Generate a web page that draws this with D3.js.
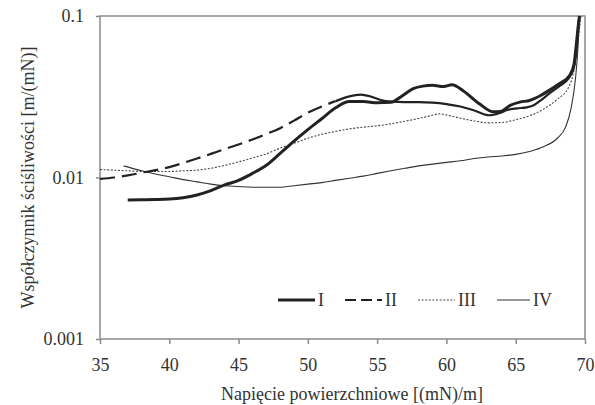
<!DOCTYPE html>
<html>
<head>
<meta charset="utf-8">
<script src="https://cdn.jsdelivr.net/npm/d3@7"></script>
<style>
  body { margin: 0; background: #fff; }
  text { font-family: "Liberation Serif", "Times New Roman", serif; fill: #333; }
</style>
</head>
<body>
<div id="chart"></div>
<script>
// series (x = surface tension, y = compressibility)
const xI = [37, 38, 39, 40, 41, 42, 43, 44, 45, 46, 47, 48, 49, 50, 51, 52, 53, 54, 55, 56, 56.8, 57.6, 58.3, 59, 59.8, 60.4, 61.2, 62.4, 63.4, 63.9, 64.6, 65.3, 66, 66.8, 67.5, 68.2, 68.9, 69.2, 69.4, 69.5, 69.6];
const yI = [0.00726, 0.00728, 0.0073, 0.00735, 0.0075, 0.0078, 0.0083, 0.009, 0.0096, 0.0106, 0.0119, 0.0141, 0.0168, 0.0198, 0.0231, 0.027, 0.0295, 0.0295, 0.029, 0.0292, 0.032, 0.0355, 0.0368, 0.0372, 0.0366, 0.0375, 0.0345, 0.0285, 0.0255, 0.0256, 0.028, 0.0293, 0.03, 0.0322, 0.035, 0.0383, 0.043, 0.05, 0.07, 0.085, 0.1];

const xII = [35, 36, 37, 38, 39, 40, 41, 42, 43, 44, 45, 46, 47, 48, 49, 50, 51, 52, 53, 53.8, 54.5, 55.2, 56, 57, 58, 59, 60, 61, 62, 63.1, 63.8, 64.4, 65.1, 65.8, 66.3, 66.8, 67.5, 68.2, 68.8, 69.2, 69.4, 69.5, 69.6];
const yII = [0.0098, 0.01, 0.0103, 0.0107, 0.0111, 0.0116, 0.0123, 0.0131, 0.014, 0.015, 0.016, 0.0172, 0.0186, 0.0202, 0.0225, 0.0252, 0.0275, 0.0297, 0.0318, 0.0326, 0.0318, 0.0303, 0.0295, 0.0293, 0.0293, 0.0291, 0.0285, 0.0275, 0.026, 0.0243, 0.025, 0.0262, 0.0268, 0.0272, 0.028, 0.03, 0.0335, 0.037, 0.041, 0.048, 0.065, 0.085, 0.1];

const xIII = [35, 36, 37, 38, 39, 40, 41, 42, 43, 44, 45, 46, 47, 48, 49, 50, 51, 52, 53, 54, 55, 56, 57, 58, 59, 59.5, 60, 61, 62, 63, 64, 65, 66, 67, 68, 68.8, 69.2, 69.5, 69.7];
const yIII = [0.0112, 0.0111, 0.011, 0.0109, 0.0109, 0.0109, 0.011, 0.0111, 0.0114, 0.0119, 0.0125, 0.0132, 0.014, 0.0152, 0.0163, 0.0175, 0.0185, 0.0193, 0.02, 0.0205, 0.0209, 0.0215, 0.0223, 0.0232, 0.0243, 0.0248, 0.0244, 0.0233, 0.0224, 0.0218, 0.0219, 0.0228, 0.0241, 0.0265, 0.0305, 0.036, 0.046, 0.07, 0.1];

const xIV = [36.7, 38, 39, 40, 41, 42, 43, 44, 45, 46, 47, 48, 49, 50, 51, 52, 53, 54, 55, 56, 57, 58, 59, 60, 61, 62, 63, 64, 65, 66, 67, 68, 68.6, 69, 69.3, 69.5, 69.6];
const yIV = [0.0118, 0.011, 0.0105, 0.0101, 0.0097, 0.0094, 0.0091, 0.0089, 0.0088, 0.0087, 0.0087, 0.0087, 0.0089, 0.0091, 0.0093, 0.0096, 0.0099, 0.0102, 0.0106, 0.011, 0.0114, 0.0118, 0.0121, 0.0124, 0.0127, 0.0131, 0.0134, 0.0136, 0.0139, 0.0145, 0.0155, 0.0175, 0.0205, 0.027, 0.04, 0.065, 0.1];

const seriesNames = ['I', 'II', 'III', 'IV'];
const xTicks = [35, 40, 45, 50, 55, 60, 65, 70];
const yTicks = [0.001, 0.01, 0.1];
const yTickLabels = ['0.001', '0.01', '0.1'];
const xTitle = 'Napięcie powierzchniowe [(mN)/m]';
const yTitle = 'Współczynnik ściśliwości [m/(mN)]';

const width = 595, height = 405;
const margin = {top: 16, right: 10, bottom: 66, left: 100};

const svg = d3.select('#chart').append('svg')
    .attr('width', width)
    .attr('height', height);

const x = d3.scaleLinear().domain([35, 70]).range([margin.left, width - margin.right]);
const y = d3.scaleLog().domain([0.001, 0.1]).range([height - margin.bottom, margin.top]);

const axisColor = '#8a8a8a';

// clip regions: whole plot, plus the split used for the dashed series
// (excel restarts the dash on every segment, so the dense right part looks solid)
const defs = svg.append('defs');
defs.append('clipPath').attr('id', 'plot')
    .append('rect')
    .attr('x', x(35)).attr('y', y(0.1) - 2)
    .attr('width', x(70) - x(35)).attr('height', y(0.001) - y(0.1) + 2);
const splitAt = 52;
defs.append('clipPath').attr('id', 'left')
    .append('rect')
    .attr('x', x(35)).attr('y', 0)
    .attr('width', x(splitAt) - x(35)).attr('height', height);
defs.append('clipPath').attr('id', 'right')
    .append('rect')
    .attr('x', x(splitAt)).attr('y', y(0.1) - 2)
    .attr('width', x(70) - x(splitAt)).attr('height', height);

// frame
svg.append('rect')
    .attr('x', x(35)).attr('y', y(0.1))
    .attr('width', x(70) - x(35)).attr('height', y(0.001) - y(0.1))
    .attr('fill', 'none')
    .attr('stroke', axisColor)
    .attr('stroke-width', 1.5);

// axes
const xAxis = svg.append('g')
    .attr('transform', `translate(0,${y(0.001)})`)
    .call(d3.axisBottom(x).tickValues(xTicks).tickSize(5).tickPadding(14).tickFormat(d3.format('d')));
const yAxis = svg.append('g')
    .attr('transform', `translate(${x(35)},0)`)
    .call(d3.axisLeft(y).tickValues(yTicks).tickSize(4).tickPadding(12)
        .tickFormat((d, i) => yTickLabels[i]));

[xAxis, yAxis].forEach(g => {
    g.select('.domain').remove();
    g.selectAll('.tick line').attr('stroke', axisColor).attr('stroke-width', 1.5);
    g.selectAll('.tick text')
        .attr('font-size', 18)
        .attr('font-family', '"Liberation Serif", serif')
        .attr('fill', '#333');
});

// titles
svg.append('text')
    .attr('x', 352).attr('y', 400)
    .attr('text-anchor', 'middle')
    .attr('font-size', 18)
    .text(xTitle);
svg.append('text')
    .attr('transform', `translate(34,${(y(0.1) + y(0.001)) / 2}) rotate(-90)`)
    .attr('text-anchor', 'middle')
    .attr('font-size', 18)
    .text(yTitle);

// series
const line = d3.line()
    .x(d => x(d[0]))
    .y(d => y(d[1]))
    .curve(d3.curveMonotoneX);

const styles = [
    {width: 3, color: '#222', dash: null},
    {width: 2.2, color: '#222', dash: '15,7'},
    {width: 1.1, color: '#444', dash: '2,1.6'},
    {width: 1.1, color: '#333', dash: null}
];
const series = [
    d3.zip(xI, yI),
    d3.zip(xII, yII),
    d3.zip(xIII, yIII),
    d3.zip(xIV, yIV)
];

const plot = svg.append('g').attr('clip-path', 'url(#plot)');

// draw back to front: IV, III, II, I
[3, 2, 1, 0].forEach(i => {
    const s = styles[i];
    if (i === 1) {
        plot.append('path')
            .attr('clip-path', 'url(#left)')
            .attr('d', line(series[i]))
            .attr('fill', 'none')
            .attr('stroke', s.color)
            .attr('stroke-width', s.width)
            .attr('stroke-dasharray', s.dash);
        plot.append('path')
            .attr('clip-path', 'url(#right)')
            .attr('d', line(series[i]))
            .attr('fill', 'none')
            .attr('stroke', s.color)
            .attr('stroke-width', s.width);
        return;
    }
    plot.append('path')
        .attr('d', line(series[i]))
        .attr('fill', 'none')
        .attr('stroke', s.color)
        .attr('stroke-width', s.width)
        .attr('stroke-dasharray', s.dash);
});

// legend
const legend = svg.append('g');
let lx = 278;
const ly = 300;
seriesNames.forEach((name, i) => {
    const s = styles[i];
    const len = i === 3 ? 33 : 37;
    legend.append('line')
        .attr('x1', lx).attr('x2', lx + len)
        .attr('y1', ly).attr('y2', ly)
        .attr('stroke', s.color)
        .attr('stroke-width', s.width)
        .attr('stroke-dasharray', i === 1 ? '11,5' : s.dash);
    const t = legend.append('text')
        .attr('x', lx + len + 3)
        .attr('y', ly + 6)
        .attr('font-size', 18)
        .text(name);
    lx += len + 3 + t.node().getComputedTextLength() + 21;
});
</script>
</body>
</html>
